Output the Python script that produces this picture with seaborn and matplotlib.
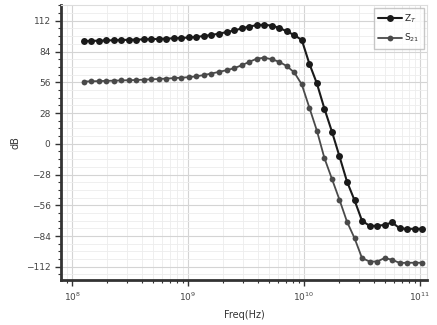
import numpy as np
import pandas as pd
import matplotlib
matplotlib.use("Agg")
import matplotlib.pyplot as plt
import seaborn as sns
from matplotlib.ticker import LogLocator, MultipleLocator, FixedLocator
from matplotlib.lines import Line2D

# Frequency sweep points (log10 of Hz)
freq_exp = [8.099, 8.164, 8.229, 8.294, 8.359, 8.424, 8.488, 8.553, 8.618, 8.683,
            8.748, 8.813, 8.878, 8.943, 9.008, 9.073, 9.137, 9.202, 9.267, 9.332,
            9.397, 9.462, 9.527, 9.592, 9.657, 9.722, 9.787, 9.851, 9.916, 9.981,
            10.046, 10.111, 10.176, 10.241, 10.306, 10.371, 10.436, 10.500, 10.565, 10.630,
            10.695, 10.760, 10.825, 10.890, 10.955, 11.020]

# Transimpedance response (dB)
z_db = [93.5, 93.7, 93.9, 94.1, 94.3, 94.5, 94.7, 94.9, 95.1, 95.3,
        95.5, 95.8, 96.1, 96.4, 96.8, 97.3, 98.2, 99.1, 100.3, 101.7,
        103.2, 105.0, 106.8, 108.0, 108.4, 107.6, 105.6, 102.4, 99.0, 94.5,
        73.0, 55.0, 32.0, 11.0, -11.5, -34.5, -51.5, -70.0, -74.7, -74.7,
        -73.8, -71.6, -77.0, -77.4, -77.4, -77.4]

# S-parameter response (dB)
s_db = [56.7, 56.9, 57.1, 57.3, 57.5, 57.7, 57.9, 58.1, 58.4, 58.7,
        59.0, 59.4, 59.8, 60.2, 60.7, 61.5, 62.6, 64.0, 65.5, 67.0,
        68.8, 71.5, 74.5, 77.5, 78.4, 77.0, 74.6, 70.8, 65.0, 54.0,
        33.0, 12.0, -13.0, -32.0, -51.0, -71.0, -86.0, -104.0, -107.2, -107.2,
        -104.0, -105.6, -108.5, -108.3, -108.3, -108.3]

series_names = ["Z$_T$", "S$_{21}$"]
y_ticks = [-112, -84, -56, -28, 0, 28, 56, 84, 112]

freq = [10 ** e for e in freq_exp]
df = pd.DataFrame({
    "Freq": freq * 2,
    "dB": z_db + s_db,
    "series": [series_names[0]] * len(freq) + [series_names[1]] * len(freq),
})

sns.set_style("white")
plt.rcParams["font.family"] = ["DejaVu Sans"]

fig = plt.figure(figsize=(4.37, 3.25), dpi=100)
ax = fig.add_axes([0.1396, 0.1385, 0.8374, 0.8465])

z_col, s_col = "#1a1a1a", "#4a4a4a"
palette = {series_names[0]: z_col, series_names[1]: s_col}
sns.lineplot(data=df, x="Freq", y="dB", hue="series", style="series",
             palette=palette, markers={series_names[0]: "o", series_names[1]: "o"},
             dashes=False, ax=ax, linewidth=1.5, markersize=5.0,
             markeredgewidth=0, legend=False)
# lighter, finer markers for the lower trace
lines = ax.get_lines()
if len(lines) >= 2:
    lines[1].set_markersize(4.2)
    lines[1].set_linewidth(1.3)

ax.set_xscale("log")
ax.set_xlim(10 ** 7.905, 10 ** 11.06)
ax.set_ylim(-124, 126.5)

ax.xaxis.set_major_locator(LogLocator(base=10, numticks=10))
ax.xaxis.set_minor_locator(LogLocator(base=10, subs=np.arange(2, 10), numticks=20))
ax.yaxis.set_major_locator(FixedLocator(y_ticks))
ax.yaxis.set_minor_locator(MultipleLocator(7))

ax.grid(True, which="major", color="#d4d4d4", linewidth=0.8)
ax.grid(True, which="minor", color="#ededed", linewidth=0.6)
ax.set_axisbelow(True)

for side in ["left", "bottom"]:
    ax.spines[side].set_color("#333333")
    ax.spines[side].set_linewidth(2.0)
for side in ["top", "right"]:
    ax.spines[side].set_color("#dddddd")
    ax.spines[side].set_linewidth(0.8)

ax.tick_params(axis="both", which="major", direction="out", length=4, width=1.0,
               color="#333333", labelsize=6.5, labelcolor="#444444")
ax.tick_params(axis="both", which="minor", direction="out", length=2, width=0.8,
               color="#333333")
ax.tick_params(axis="both", which="both", left=True, bottom=True)

ax.set_xlabel("Freq(Hz)", fontsize=7, color="#333333", labelpad=5)
ax.set_ylabel("dB", fontsize=7, color="#333333", labelpad=4)

handles = [Line2D([], [], color=z_col, marker="o", markersize=5.0, linewidth=1.5,
                  markeredgewidth=0),
           Line2D([], [], color=s_col, marker="o", markersize=4.2, linewidth=1.3,
                  markeredgewidth=0)]
leg = ax.legend(handles, series_names, loc="upper right", fontsize=6.5,
                frameon=True, fancybox=False, handlelength=2.6, borderpad=0.5,
                labelspacing=0.8, handletextpad=0.3, borderaxespad=0.3)
leg.get_frame().set_edgecolor("#bbbbbb")
leg.get_frame().set_linewidth(1.0)

fig.savefig("out.png", dpi=100)
